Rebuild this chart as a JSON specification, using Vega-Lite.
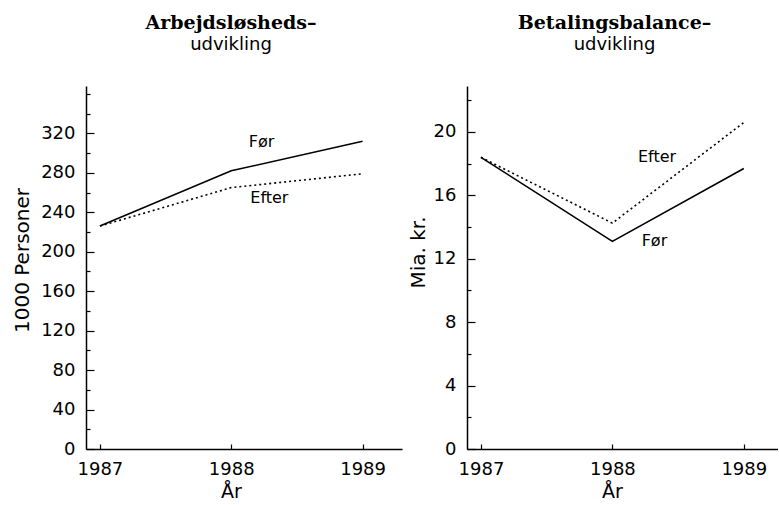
{
  "$schema": "https://vega.github.io/schema/vega-lite/v6.json",
  "padding": {"left": 12, "top": 14, "right": 0, "bottom": 0},
  "bounds": "flush",
  "spacing": 65,
  "background": "white",
  "datasets": {
    "unemp": [
      {"year": 1987, "series": "Før", "value": 226},
      {"year": 1988, "series": "Før", "value": 282},
      {"year": 1989, "series": "Før", "value": 312},
      {"year": 1987, "series": "Efter", "value": 226},
      {"year": 1988, "series": "Efter", "value": 265},
      {"year": 1989, "series": "Efter", "value": 279}
    ],
    "unemp_labels": [
      {"year": 1988.23, "value": 311, "label": "Før"},
      {"year": 1988.29, "value": 254, "label": "Efter"}
    ],
    "balance": [
      {"year": 1987, "series": "Før", "value": 18.4},
      {"year": 1988, "series": "Før", "value": 13.1},
      {"year": 1989, "series": "Før", "value": 17.7},
      {"year": 1987, "series": "Efter", "value": 18.4},
      {"year": 1988, "series": "Efter", "value": 14.25},
      {"year": 1989, "series": "Efter", "value": 20.6}
    ],
    "balance_labels": [
      {"year": 1988.34, "value": 18.4, "label": "Efter"},
      {"year": 1988.32, "value": 13.1, "label": "Før"}
    ]
  },
  "hconcat": [
    {
      "width": 316,
      "height": 363,
      "title": {
        "text": "Arbejdsløsheds–",
        "subtitle": "udvikling",
        "font": "DejaVu Serif",
        "fontWeight": "bold",
        "fontSize": 19,
        "color": "black",
        "subtitleFont": "DejaVu Sans",
        "subtitleFontSize": 18,
        "subtitleColor": "black",
        "subtitlePadding": 3,
        "anchor": "middle",
        "dx": -13,
        "offset": 32
      },
      "resolve": {"axis": {"x": "independent", "y": "independent"}},
      "layer": [
        {
          "data": {"name": "unemp"},
          "transform": [{"filter": "datum.series === 'Før'"}],
          "mark": {"type": "line", "color": "black", "strokeWidth": 1.6},
          "encoding": {
            "x": {
              "field": "year", "type": "quantitative",
              "scale": {"domain": [1986.894, 1989.3], "nice": false, "zero": false},
              "axis": {"orient": "bottom", "values": [1987, 1988, 1989], "format": "d", "title": "År", "ticks": false, "labelPadding": 11, "labelFontSize": 18, "titleFontSize": 19, "titleX": 145, "titlePadding": 4, "labelFlush": false}
            },
            "y": {
              "field": "value", "type": "quantitative",
              "scale": {"domain": [0, 368], "nice": false},
              "axis": {"orient": "left", "values": [0, 40, 80, 120, 160, 200, 240, 280, 320], "title": "1000 Personer", "ticks": false, "labelPadding": 11, "labelFontSize": 18, "titleFontSize": 20, "titlePadding": 8, "titleY": 174}
            }
          }
        },
        {
          "data": {"name": "unemp"},
          "transform": [{"filter": "datum.series === 'Efter'"}],
          "mark": {"type": "line", "color": "black", "strokeWidth": 1.6, "strokeDash": [2, 3]},
          "encoding": {
            "x": {
              "field": "year", "type": "quantitative",
              "axis": {"orient": "bottom", "values": [1987, 1988, 1989], "offset": -5, "tickSize": 5, "labels": false, "domain": false, "title": null}
            },
            "y": {
              "field": "value", "type": "quantitative",
              "axis": {"orient": "left", "values": [0, 40, 80, 120, 160, 200, 240, 280, 320], "offset": -8, "tickSize": 8, "labels": false, "domain": false, "title": null}
            }
          }
        },
        {
          "data": {"name": "unemp_labels"},
          "mark": {"type": "text", "font": "DejaVu Sans", "fontSize": 16, "color": "black"},
          "encoding": {
            "x": {"field": "year", "type": "quantitative", "axis": null},
            "y": {
              "field": "value", "type": "quantitative",
              "axis": {"orient": "left", "values": [20, 60, 100, 140, 180, 220, 260, 300, 340, 360], "offset": -4, "tickSize": 4, "labels": false, "domain": false, "title": null}
            },
            "text": {"field": "label"}
          }
        }
      ]
    },
    {
      "width": 311,
      "height": 363,
      "title": {
        "text": "Betalingsbalance–",
        "subtitle": "udvikling",
        "font": "DejaVu Serif",
        "fontWeight": "bold",
        "fontSize": 19,
        "color": "black",
        "subtitleFont": "DejaVu Sans",
        "subtitleFontSize": 18,
        "subtitleColor": "black",
        "subtitlePadding": 3,
        "anchor": "middle",
        "dx": -8,
        "offset": 32
      },
      "resolve": {"axis": {"x": "independent", "y": "independent"}},
      "layer": [
        {
          "data": {"name": "balance"},
          "transform": [{"filter": "datum.series === 'Før'"}],
          "mark": {"type": "line", "color": "black", "strokeWidth": 1.6},
          "encoding": {
            "x": {
              "field": "year", "type": "quantitative",
              "scale": {"domain": [1986.894, 1989.26], "nice": false, "zero": false},
              "axis": {"orient": "bottom", "values": [1987, 1988, 1989], "format": "d", "title": "År", "ticks": false, "labelPadding": 11, "labelFontSize": 18, "titleFontSize": 19, "titleX": 145, "titlePadding": 4, "labelFlush": false}
            },
            "y": {
              "field": "value", "type": "quantitative",
              "scale": {"domain": [0, 22.9], "nice": false},
              "axis": {"orient": "left", "values": [0, 4, 8, 12, 16, 20], "title": "Mia. kr.", "ticks": false, "labelPadding": 11, "labelFontSize": 18, "titleFontSize": 20, "titlePadding": 5, "titleY": 166}
            }
          }
        },
        {
          "data": {"name": "balance"},
          "transform": [{"filter": "datum.series === 'Efter'"}],
          "mark": {"type": "line", "color": "black", "strokeWidth": 1.6, "strokeDash": [2, 3]},
          "encoding": {
            "x": {
              "field": "year", "type": "quantitative",
              "axis": {"orient": "bottom", "values": [1987, 1988, 1989], "offset": -5, "tickSize": 5, "labels": false, "domain": false, "title": null}
            },
            "y": {
              "field": "value", "type": "quantitative",
              "axis": {"orient": "left", "values": [0, 4, 8, 12, 16, 20], "offset": -8, "tickSize": 8, "labels": false, "domain": false, "title": null}
            }
          }
        },
        {
          "data": {"name": "balance_labels"},
          "mark": {"type": "text", "font": "DejaVu Sans", "fontSize": 16, "color": "black"},
          "encoding": {
            "x": {"field": "year", "type": "quantitative", "axis": null},
            "y": {
              "field": "value", "type": "quantitative",
              "axis": {"orient": "left", "values": [2, 6, 10, 14, 18, 22], "offset": -4, "tickSize": 4, "labels": false, "domain": false, "title": null}
            },
            "text": {"field": "label"}
          }
        }
      ]
    }
  ],
  "config": {
    "view": {"stroke": null},
    "axis": {
      "labelFont": "DejaVu Sans",
      "titleFont": "DejaVu Sans",
      "titleFontWeight": "normal",
      "labelColor": "black",
      "titleColor": "black",
      "domainColor": "black",
      "tickColor": "black",
      "domainWidth": 1.5,
      "tickWidth": 1.2,
      "grid": false
    }
  }
}
